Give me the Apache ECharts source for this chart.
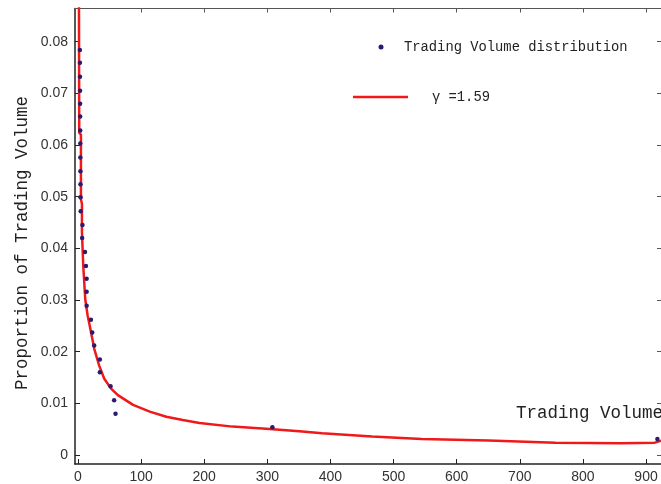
<!DOCTYPE html>
<html>
<head>
<meta charset="utf-8">
<script src="https://cdn.jsdelivr.net/npm/echarts@6/dist/echarts.min.js"></script>
<style>
  html, body { margin: 0; padding: 0; background: #fff; }
  #chart { width: 661px; height: 484px; }
</style>
</head>
<body>
<div id="chart"></div>
<script>
// tick labels
const xTicks = [0, 100, 200, 300, 400, 500, 600, 700, 800, 900];
const yTicks = [0, 0.01, 0.02, 0.03, 0.04, 0.05, 0.06, 0.07, 0.08];

// observed distribution (dots)
const dotX = [3.0, 3.1, 3.2, 3.3, 3.4, 3.5, 3.6, 3.7, 3.8, 3.9, 4.0, 4.1, 4.3,
  7.1, 6.6, 11.1, 12.6, 13.7, 13.7, 13.7, 20.5, 22.6, 25.7, 34.7, 34.7,
  51.6, 57.3, 59.5, 308, 918];
const dotY = [0.0784, 0.0759, 0.0732, 0.0705, 0.0680, 0.0655, 0.0628, 0.0603, 0.0576,
  0.0549, 0.0524, 0.0499, 0.0472, 0.0445, 0.0420, 0.0393, 0.0366, 0.0341, 0.0316,
  0.0289, 0.0262, 0.0237, 0.0212, 0.0185, 0.0160, 0.0133, 0.0106, 0.0080, 0.0054, 0.0031];

// fitted curve, gamma = 1.59
const fitX = [1.3, 1.6, 2.0, 4.7, 4.7, 6.3, 6.3, 8.4, 11.5, 15.3, 20.5, 25.7, 33.6, 41.5,
  52.1, 63.2, 87.3, 113.7, 140, 166, 192.6, 244.7, 298, 350.8, 386.9, 465.8,
  544.8, 650.6, 756.4, 860.6, 914, 924];
const fitY = [0.095, 0.0865, 0.0624, 0.0620, 0.0495, 0.0486, 0.0432, 0.0366, 0.0302,
  0.0270, 0.0239, 0.0206, 0.0173, 0.0148, 0.0129, 0.0116, 0.0097, 0.0084,
  0.0074, 0.0068, 0.0062, 0.0055, 0.0051, 0.0046, 0.0042, 0.0036, 0.0031, 0.0028,
  0.0024, 0.0023, 0.0024, 0.0028];

const dotName = "Trading Volume distribution";
const fitName = "γ =1.59";

const myChart = echarts.init(document.getElementById("chart"));

const labelFont = { fontFamily: "Liberation Sans", fontSize: 14, color: "#333" };
const monoFont = "Liberation Mono";

const option = {
  animation: false,
  grid: { left: 75, top: 8.5, right: -2, bottom: 18 },
  legend: [
    {
      data: [{ name: dotName, icon: "circle" }],
      left: 378.5,
      top: 40,
      padding: 0,
      itemWidth: 5,
      itemHeight: 5,
      selectedMode: false,
      textStyle: { fontFamily: monoFont, fontSize: 13.8, color: "#222", padding: [0, 0, 5, 15.5] },
    },
    {
      data: [{ name: fitName, icon: "rect" }],
      left: 353,
      top: 90,
      padding: 0,
      itemWidth: 55,
      itemHeight: 2.5,
      selectedMode: false,
      textStyle: { fontFamily: monoFont, fontSize: 13.8, color: "#222", padding: [0, 0, 5, 19] },
    },
  ],
  xAxis: [
    {
      type: "value",
      min: -4.7,
      max: 923.7,
      splitLine: { show: false },
      axisLine: { show: true, onZero: false, lineStyle: { color: "#222", width: 1.5 } },
      axisTick: { show: true, inside: true, length: 5, customValues: xTicks, lineStyle: { color: "#222" } },
      axisLabel: { customValues: xTicks, margin: 6, ...labelFont },
    },
    {
      type: "value",
      position: "top",
      min: -4.7,
      max: 923.7,
      splitLine: { show: false },
      axisLine: { show: true, onZero: false, lineStyle: { color: "#555", width: 1 } },
      axisTick: { show: true, inside: true, length: 4, customValues: xTicks, lineStyle: { color: "#555" } },
      axisLabel: { show: false },
    },
  ],
  yAxis: [
    {
      type: "value",
      min: -0.001734,
      max: 0.08642,
      splitLine: { show: false },
      axisLine: { show: true, onZero: false, lineStyle: { color: "#222", width: 1.5 } },
      axisTick: { show: true, inside: true, length: 5, customValues: yTicks, lineStyle: { color: "#222" } },
      axisLabel: {
        customValues: yTicks,
        margin: 7,
        ...labelFont,
        formatter: (v) => (v === 0 ? "0" : v.toFixed(2)),
      },
    },
    {
      type: "value",
      position: "right",
      min: -0.001734,
      max: 0.08642,
      splitLine: { show: false },
      axisLine: { show: true, onZero: false, lineStyle: { color: "#555", width: 1 } },
      axisTick: { show: true, inside: true, length: 4, customValues: yTicks, lineStyle: { color: "#555" } },
      axisLabel: { show: false },
    },
  ],
  graphic: [
    {
      type: "text",
      x: 22,
      y: 243,
      rotation: Math.PI / 2,
      style: {
        text: "Proportion of Trading Volume",
        fontFamily: monoFont,
        fontSize: 17.5,
        fill: "#222",
        align: "center",
        verticalAlign: "middle",
      },
    },
    {
      type: "text",
      x: 516,
      y: 413,
      style: {
        text: "Trading Volume",
        fontFamily: monoFont,
        fontSize: 17.5,
        fill: "#222",
        align: "left",
        verticalAlign: "middle",
      },
    },
  ],
  series: [
    {
      name: fitName,
      type: "line",
      data: fitX.map((x, i) => [x, fitY[i]]),
      showSymbol: false,
      symbol: "none",
      clip: true,
      lineStyle: { color: "#f01818", width: 2.5 },
      itemStyle: { color: "#f01818" },
      z: 2,
    },
    {
      name: dotName,
      type: "scatter",
      data: dotX.map((x, i) => [x, dotY[i]]),
      symbol: "circle",
      symbolSize: 4.5,
      clip: true,
      itemStyle: { color: "#2a1a70", opacity: 1 },
      z: 3,
    },
  ],
};

myChart.setOption(option, true);
window.addEventListener("resize", function () {
  myChart.resize();
});
</script>
</body>
</html>
